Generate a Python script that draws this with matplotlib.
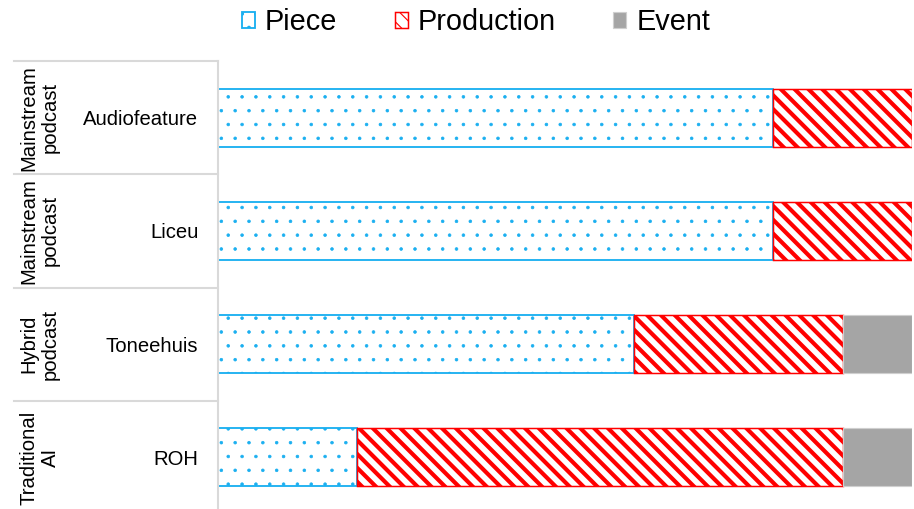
import matplotlib
matplotlib.use("Agg")
import matplotlib.pyplot as plt
import matplotlib.transforms as mtransforms
import numpy as np

# data (counts out of 10)
groups = ["Mainstream\npodcast", "Mainstream\npodcast", "Hybrid\npodcast", "Traditional\nAI"]
cases = ["Audiofeature", "Liceu", "Toneehuis", "ROH"]
piece = [8, 8, 6, 2]
production = [2, 2, 3, 7]
event = [0, 0, 1, 1]

plt.rcParams['font.family'] = ['Liberation Sans', 'DejaVu Sans']

DPI = 83  # hatch spacing scales with dpi, 83 gives the reference stripe pitch
fig = plt.figure(figsize=(914 / DPI, 509 / DPI), dpi=DPI)
ax = fig.add_axes([218 / 914, 1 - 514 / 509, 694 / 914, 453 / 509])

y = np.arange(len(cases))
h = 0.51
blue = "#1aaff0"
red = "#ff0000"

b1 = ax.barh(y, piece, height=h, color="white", edgecolor=blue, hatch=".", linewidth=1.6, label="Piece")
b2 = ax.barh(y, production, left=piece, height=h, color="white", edgecolor=red, hatch="\\\\", linewidth=1.3, label="Production")
left3 = np.array(piece) + np.array(production)
b3 = ax.barh(y, event, left=left3, height=h, color="#a5a5a5", edgecolor="#cfcfcf", linewidth=1.0, label="Event")

for p in b1:
    p.set_hatch_linewidth(0.6)
for p in b2:
    p.set_hatch_linewidth(3.6)

ax.set_xlim(0, 10)
ax.set_ylim(3.5, -0.5)
ax.set_yticks(y)
ax.set_yticklabels(cases, fontsize=17.6)
ax.tick_params(axis="y", length=0, pad=17)
ax.set_xticks([])
for s in ["top", "right", "bottom"]:
    ax.spines[s].set_visible(False)
ax.spines["left"].set_color("#d9d9d9")
ax.spines["left"].set_linewidth(1.8)

# table-like grouping on the left
trans = mtransforms.blended_transform_factory(fig.transFigure, ax.transData)
for yy in [-0.5, 0.5, 1.5, 2.5]:
    ax.plot([14 / 914, 218 / 914], [yy, yy], color="#d9d9d9", lw=1.8, transform=trans, clip_on=False)
for i, g in enumerate(groups):
    ax.text(40 / 914, i, g, transform=trans, rotation=90, ha="center", va="center",
            fontsize=17.6, multialignment="center", linespacing=1.15)

leg = fig.legend(handles=[b1, b2, b3], loc="center", bbox_to_anchor=(476 / 914, 1 - 22 / 509),
                 ncol=3, frameon=False, fontsize=25, handlelength=0.45, handleheight=0.5,
                 handletextpad=0.35, columnspacing=2.0, borderpad=0)

fig.savefig("out.png", dpi=DPI)
